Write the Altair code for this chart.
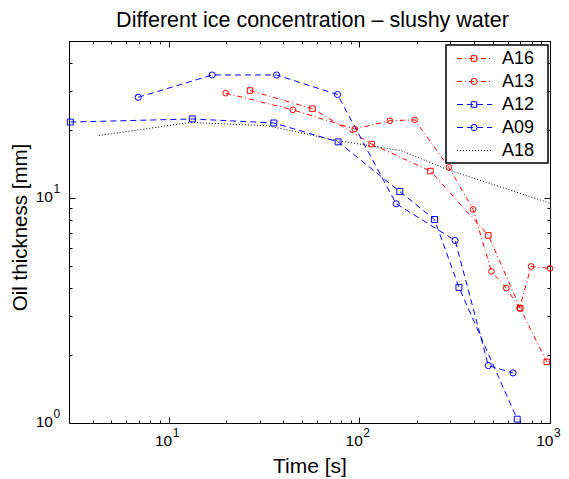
import altair as alt
import pandas as pd

# ---------------- data ----------------
series = ["A16", "A13", "A12", "A09", "A18"]

a16_t = [26.7, 56.8, 116, 236, 475, 698, 961]
a16_h = [30.1, 25.0, 17.4, 13.2, 6.83, 3.24, 1.87]

a13_t = [19.9, 44.8, 94.6, 144.5, 195, 295, 395, 493, 590, 692, 796, 1000]
a13_h = [29.3, 24.7, 20.3, 22.1, 22.3, 13.7, 8.91, 4.72, 3.98, 3.24, 4.97, 4.87]

a12_t = [3.05, 13.3, 35.6, 77.4, 163, 248, 333, 673]
a12_h = [21.8, 22.5, 21.6, 17.8, 10.7, 8.04, 4.01, 1.04]

a09_t = [6.92, 16.9, 36.8, 76.8, 156, 318, 475, 640]
a09_h = [28.1, 35.3, 35.3, 28.9, 9.44, 6.49, 1.80, 1.67]

a18_t = [4.3, 13, 33, 77, 165, 290, 1000]
a18_h = [19.0, 21.7, 21.0, 18.0, 16.3, 13.4, 9.5]

x_ticks = [3, 4, 5, 6, 7, 8, 9, 10, 20, 30, 40, 50, 60, 70, 80, 90,
           100, 200, 300, 400, 500, 600, 700, 800, 900, 1000]
y_ticks = [1, 2, 3, 4, 5, 6, 7, 8, 9, 10, 20, 30, 40, 50]

# tick labels: 10^n written as base "10" plus superscript exponent
x_label_vals = [10, 100, 1000]
x_label_exp = ["1", "2", "3"]
y_label_vals = [1, 10]
y_label_exp = ["0", "1"]

title_text = "Different ice concentration – slushy water"
x_title = "Time [s]"
y_title = "Oil thickness [mm]"

# ---------------- styles ----------------
colors = ["#ff0000", "#ff0000", "#0000ff", "#0000ff", "#000000"]
dashes = [[5, 3, 1, 3], [5, 3, 1, 3], [6, 4], [6, 4], [1, 2]]
shapes = ["square", "circle", "square", "circle"]
sizes = [30, 38, 30, 38]

FONT = "Liberation Sans"
W, H = 481, 382

rows = []
for name, ts, hs in zip(series, [a16_t, a13_t, a12_t, a09_t, a18_t],
                        [a16_h, a13_h, a12_h, a09_h, a18_h]):
    for i, (t, h) in enumerate(zip(ts, hs)):
        rows.append({"series": name, "t": t, "h": h, "i": i})
df = pd.DataFrame(rows)
df_pts = df[df["series"] != "A18"]

xscale = alt.Scale(type="log", domain=[3, 1000], nice=False)
yscale = alt.Scale(type="log", domain=[1, 50], nice=False)

major = "indexof([1, 10, 100, 1000], datum.value) >= 0"
tsize = {"condition": {"test": major, "value": -6}, "value": -3}

common = dict(domainColor="black", domainWidth=1, tickColor="black", tickWidth=1,
              grid=False, labels=False, tickSize=tsize,
              titleFont=FONT, titleFontWeight="normal", titleColor="black")

x_bottom = alt.Axis(orient="bottom", values=x_ticks, title=x_title, titleFontSize=21,
                    titleBaseline="alphabetic", titleY=49.5, **common)
y_left = alt.Axis(orient="left", values=y_ticks, title=y_title, titleFontSize=20.5,
                  titleBaseline="alphabetic", titleX=-43, titleY=H / 2 - 5, **common)
x_top = alt.Axis(orient="top", values=x_ticks, title=None, **common)
y_right = alt.Axis(orient="right", values=y_ticks, title=None, **common)

color_enc = alt.Color("series:N", scale=alt.Scale(domain=series, range=colors), legend=None)
dash_enc = alt.StrokeDash("series:N", scale=alt.Scale(domain=series, range=dashes), legend=None)

lines = alt.Chart(df).mark_line(strokeWidth=1, clip=False).encode(
    x=alt.X("t:Q", scale=xscale, axis=None),
    y=alt.Y("h:Q", scale=yscale, axis=None),
    color=color_enc, strokeDash=dash_enc, order=alt.Order("i:Q"),
)

points = alt.Chart(df_pts).mark_point(filled=False, strokeWidth=1, opacity=1, clip=False).encode(
    x=alt.X("t:Q", scale=xscale, axis=None),
    y=alt.Y("h:Q", scale=yscale, axis=None),
    color=color_enc,
    shape=alt.Shape("series:N", scale=alt.Scale(domain=series[:4], range=shapes), legend=None),
    size=alt.Size("series:N", scale=alt.Scale(domain=series[:4], range=sizes), legend=None),
)

axes_bl = alt.Chart(df).mark_line(opacity=0).encode(
    x=alt.X("t:Q", scale=xscale, axis=x_bottom),
    y=alt.Y("h:Q", scale=yscale, axis=y_left),
    detail="series:N",
)
axes_tr = alt.Chart(df).mark_line(opacity=0).encode(
    x=alt.X("t:Q", scale=xscale, axis=x_top),
    y=alt.Y("h:Q", scale=yscale, axis=y_right),
    detail="series:N",
)

# ---------------- tick labels with superscripts ----------------
xl = pd.DataFrame({"v": x_label_vals, "e": x_label_exp})
yl = pd.DataFrame({"v": y_label_vals, "e": y_label_exp})
TL = dict(font=FONT, color="black", baseline="alphabetic")

x_base = alt.Chart(xl).mark_text(align="right", dx=3.5, fontSize=15.5, **TL).encode(
    x=alt.X("v:Q", scale=xscale, axis=None), y=alt.value(H + 22.5), text=alt.value("10"))
x_sup = alt.Chart(xl).mark_text(align="left", dx=4, fontSize=12, **TL).encode(
    x=alt.X("v:Q", scale=xscale, axis=None), y=alt.value(H + 13.5), text="e:N")
y_base = alt.Chart(yl).mark_text(align="right", dy=4, fontSize=15.5, **TL).encode(
    y=alt.Y("v:Q", scale=yscale, axis=None), x=alt.value(-16), text=alt.value("10"))
y_sup = alt.Chart(yl).mark_text(align="left", dy=-5, fontSize=12, **TL).encode(
    y=alt.Y("v:Q", scale=yscale, axis=None), x=alt.value(-15.5), text="e:N")

# ---------------- title (as text above the plot) ----------------
title = alt.Chart(pd.DataFrame({"s": [title_text]})).mark_text(
    align="center", baseline="alphabetic", font=FONT, fontSize=21.5, color="black").encode(
    x=alt.value(W / 2 + 3), y=alt.value(-14.5), text="s:N")

# ---------------- legend (manual, MATLAB style) ----------------
one = pd.DataFrame({"a": [0]})
leg_layers = [
    alt.Chart(one).mark_rect(fill="white", stroke="black", strokeWidth=1.5).encode(
        x=alt.value(377), x2=alt.value(479), y=alt.value(4), y2=alt.value(122))
]
for k, name in enumerate(series):
    yk = 17.5 + 23 * k
    leg_layers.append(alt.Chart(one).mark_rule(color=colors[k], strokeDash=dashes[k], strokeWidth=1).encode(
        x=alt.value(388), x2=alt.value(423), y=alt.value(yk)))
    if k < len(shapes):
        leg_layers.append(alt.Chart(one).mark_point(shape=shapes[k], color=colors[k], filled=False,
                                                     strokeWidth=1, size=sizes[k], opacity=1).encode(
            x=alt.value(405), y=alt.value(yk)))
    leg_layers.append(alt.Chart(one).mark_text(align="left", baseline="middle", font=FONT,
                                               fontSize=18, color="black").encode(
        x=alt.value(433), y=alt.value(yk), text=alt.value(name)))

chart = alt.layer(axes_bl, axes_tr, lines, points, x_base, x_sup, y_base, y_sup, title,
                  *leg_layers).resolve_axis(
    x="independent", y="independent"
).properties(
    width=W, height=H,
    autosize=alt.AutoSizeParams(type="none"),
    padding={"left": 61, "top": 33, "right": 11, "bottom": 54},
).configure_view(stroke="black", strokeWidth=1)

chart.save("out.html", embed_options={"renderer": "svg", "actions": False})
